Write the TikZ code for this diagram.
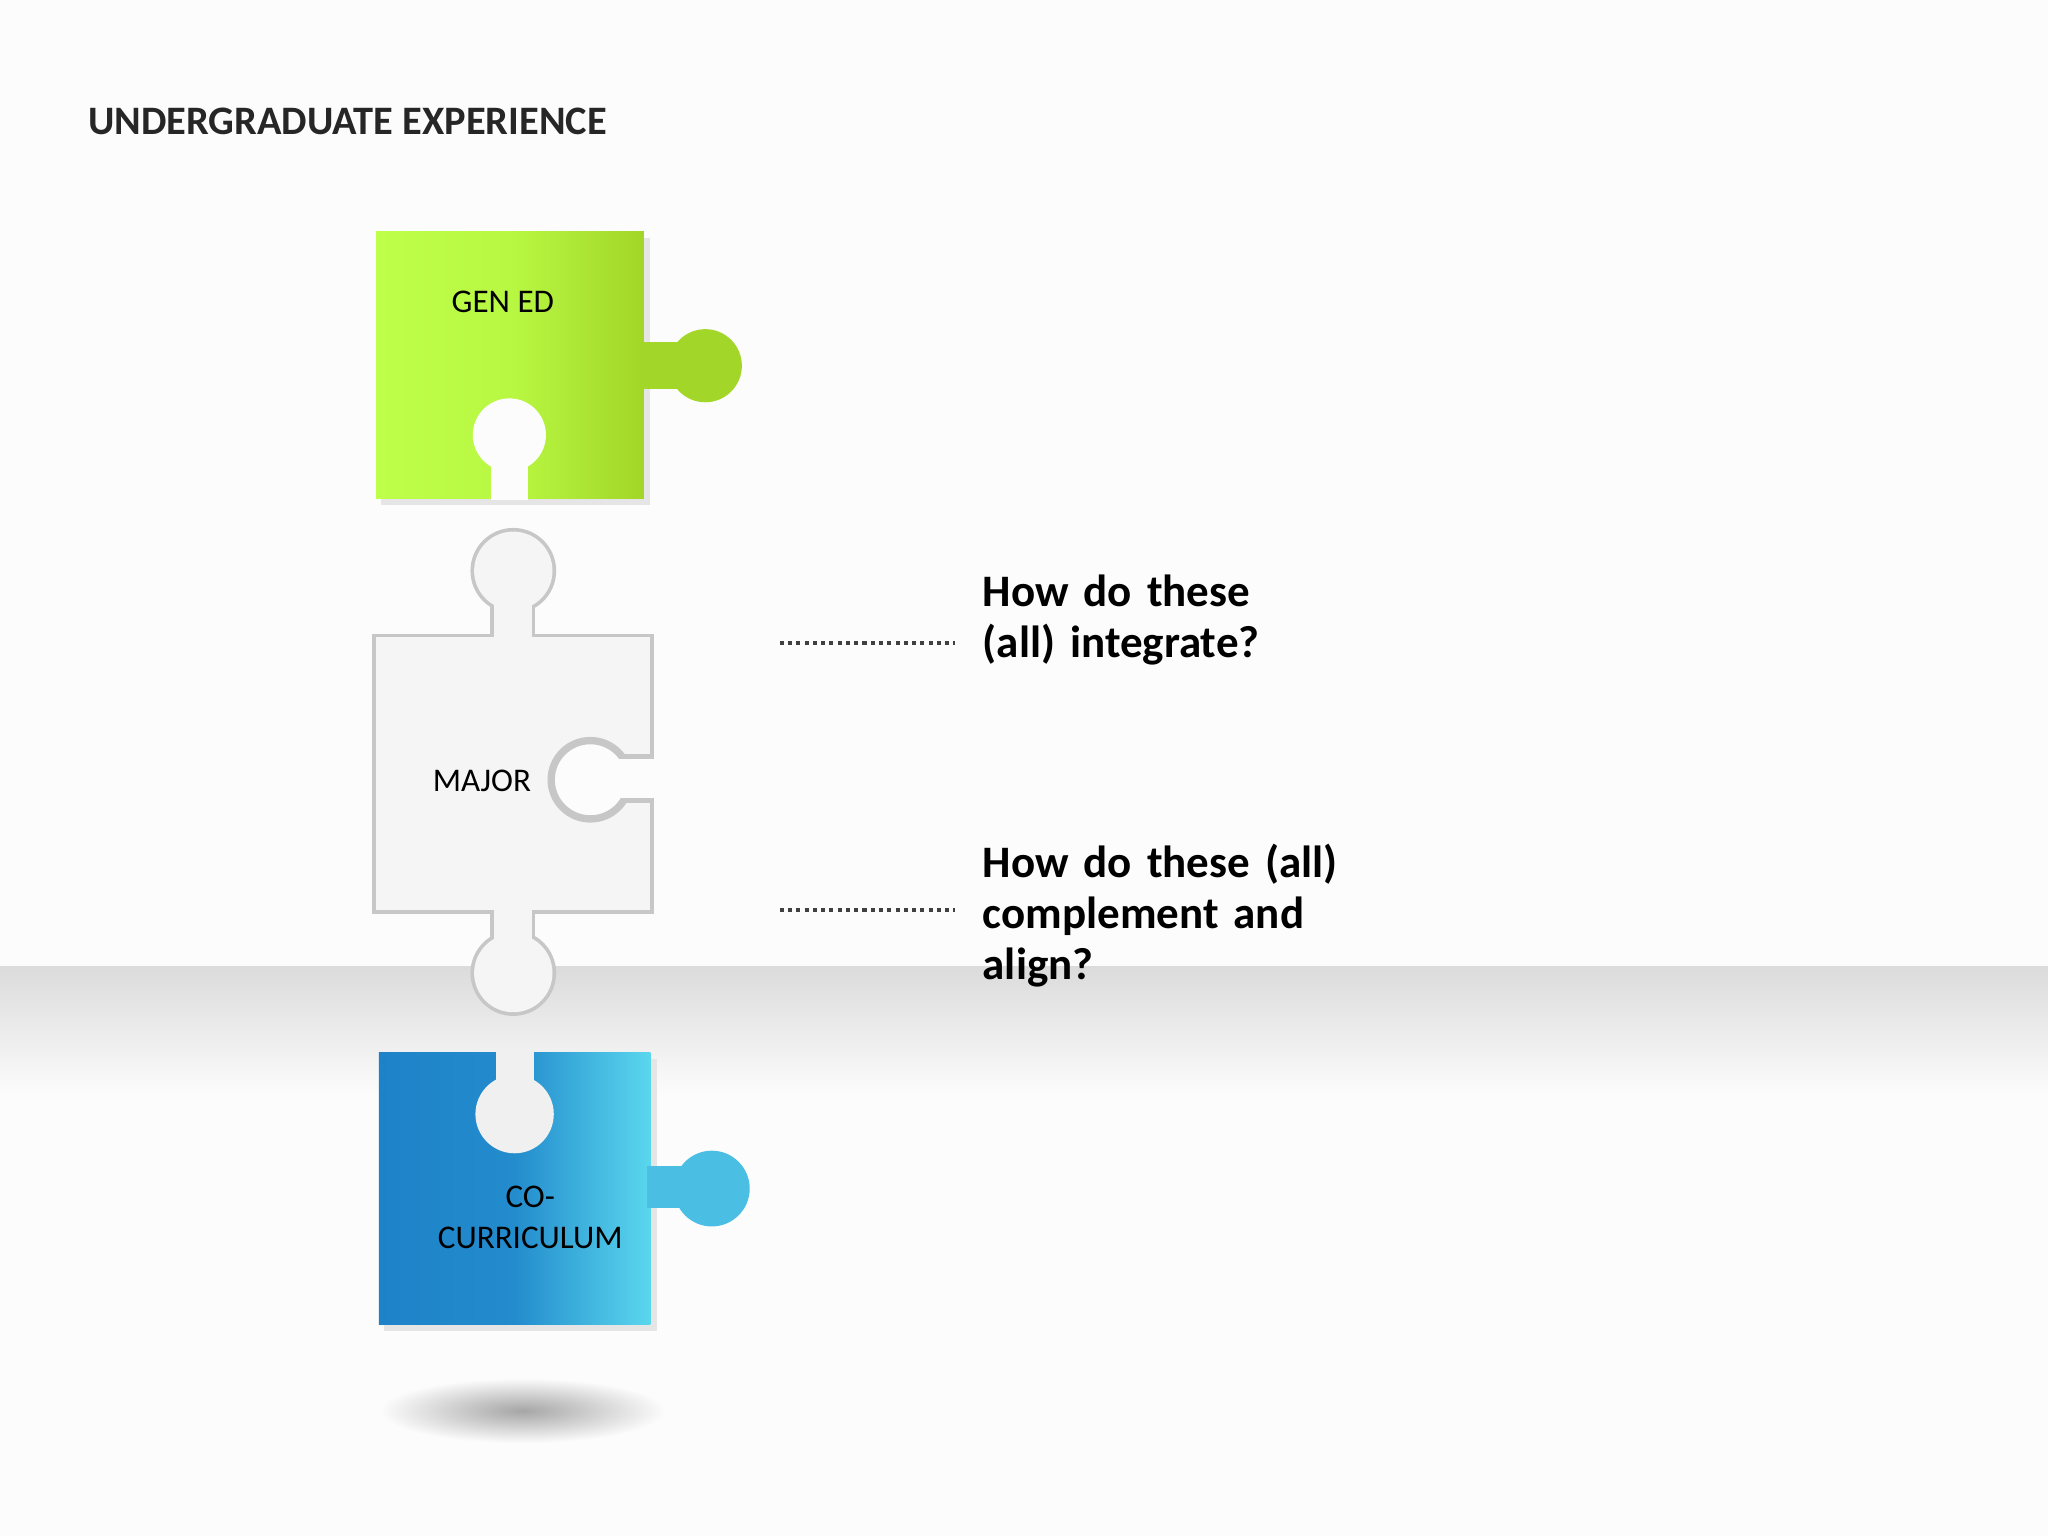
\documentclass[tikz,border=0pt]{standalone}
\usepackage{fontspec}
\setmainfont{Carlito}
\definecolor{gA}{RGB}{190,255,74}
\definecolor{gB}{RGB}{184,248,66}
\definecolor{gC}{RGB}{160,214,42}
\definecolor{gT}{RGB}{162,214,40}
\definecolor{bA}{RGB}{30,130,200}
\definecolor{bB}{RGB}{35,140,205}
\definecolor{bC}{RGB}{90,215,238}
\definecolor{bT}{RGB}{75,190,228}
\begin{document}
\begin{tikzpicture}[x=0.01cm,y=-0.01cm,
  lbl/.style={font=\fontsize{7.2}{8.8}\selectfont, align=center, text=black},
  q/.style={font=\bfseries\fontsize{9.8}{11.1}\selectfont, align=left, anchor=north west, text width=8cm},
  dots/.style={line width=0.9pt, dash pattern=on 0.9pt off 0.9pt, draw=black!75}]
\fill[black!1] (0,0) rectangle (1568,1176);
\useasboundingbox (0,0) rectangle (1568,1176);
% floor
\shade[top color=black!14, bottom color=black!1] (0,740) rectangle (1568,840);
\fill[black!1] (0,840) rectangle (1568,1176);
% bottom shadow
\shade[inner color=black!35, outer color=black!1] (400,1080) ellipse (110 and 25);
\node[font=\bfseries\fontsize{8.8}{10}\selectfont, text=black!85, anchor=west] (title) at (55,93) {UNDERGRADUATE EXPERIENCE};

% ---------- GEN ED (green)
\fill[black!10] (292,182) rectangle (498,387);
\shade[left color=gA, right color=gT, middle color=gB] (288,177) rectangle (493,382);
\fill[gT] (490,262) rectangle (520,298);
\fill[gT] (540,280) circle (28);
\fill[black!1] (376,340) rectangle (404,383);
\fill[black!1] (390,333) circle (28);
\node[lbl] (gen) at (385,231) {GEN ED};

% ---------- MAJOR (white)
\begin{scope}[draw=black!22, line width=1.6pt]
\draw (288,488) rectangle (498,697);
\draw (378,455) rectangle (407,500);
\draw (393,437) circle (30);
\draw (378,685) rectangle (407,730);
\draw (393,745) circle (30);
\end{scope}
\begin{scope}[fill=black!4]
\fill (288,488) rectangle (498,697);
\fill (378,455) rectangle (407,500);
\fill (393,437) circle (30);
\fill (378,685) rectangle (407,730);
\fill (393,745) circle (30);
\end{scope}
\begin{scope}
\clip (288,488) rectangle (498,697);
\draw[draw=black!22, line width=1.6pt, fill=black!1] (440,580) rectangle (510,612);
\draw[draw=black!22, line width=1.6pt, fill=black!1] (452,597) circle (30);
\fill[black!1] (440,581) rectangle (510,611);
\end{scope}
\fill[black!1] (497,581) rectangle (502,611);
\node[lbl] (major) at (369,598) {MAJOR};

% ---------- CO-CURRICULUM (blue)
\fill[black!10] (294,811) rectangle (503,1019);
\shade[shading=axis, shading angle=-45, left color=bA, right color=bC, middle color=bB] (290,806) rectangle (498,1014);
\fill[bT] (495,893) rectangle (522,925);
\fill[bT] (545,910) circle (29);
\fill[black!6] (380,805) rectangle (409,840);
\fill[black!6] (394,853) circle (30);
\node[lbl] (co) at (406,932) {CO-\\CURRICULUM};

% ---------- questions
\coordinate (d1a) at (597,492); \coordinate (d1b) at (731,492);
\coordinate (d2a) at (597,697); \coordinate (d2b) at (731,697);
\draw[dots] (d1a) -- (d1b);
\draw[dots] (d2a) -- (d2b);
\node[q] (q1) at (740,428) {How do these\\(all) integrate?};
\node[q] (q2) at (740,634) {How do these (all)\\complement and\\align?};
\end{tikzpicture}
\end{document}
